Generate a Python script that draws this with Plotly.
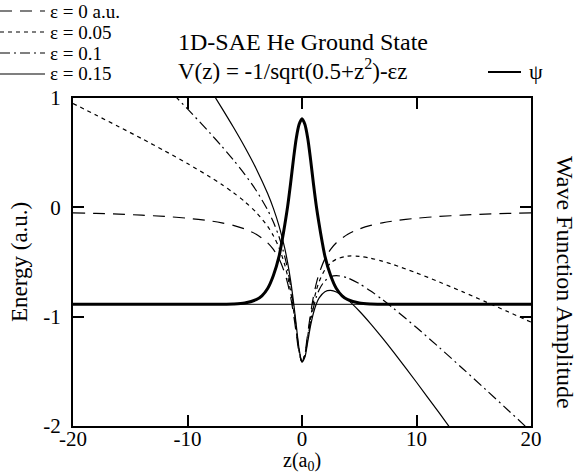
import plotly.graph_objects as go

# ---- data -------------------------------------------------------------
# position grid along the field axis, z in a0
z = [-20, -18, -16, -14, -12, -10, -8, -7, -6, -5, -4, -3, -2.5, -2, -1.5, -1.25,
     -1, -0.75, -0.5, -0.25, 0, 0.25, 0.5, 0.75, 1, 1.25, 1.5, 2, 2.5, 3, 4, 5,
     6, 7, 8, 10, 12, 14, 16, 18, 20]

# soft-core potential energy (a.u.) for each field strength
v_eps_000 = [-0.0500, -0.0555, -0.0624, -0.0713, -0.0832, -0.0998, -0.1245, -0.1421,
             -0.1655, -0.1980, -0.2462, -0.3244, -0.3849, -0.4714, -0.6030, -0.6963,
             -0.8165, -0.9701, -1.1547, -1.3333, -1.4142, -1.3333, -1.1547, -0.9701,
             -0.8165, -0.6963, -0.6030, -0.4714, -0.3849, -0.3244, -0.2462, -0.1980,
             -0.1655, -0.1421, -0.1245, -0.0998, -0.0832, -0.0713, -0.0624, -0.0555,
             -0.0500]
v_eps_005 = [0.9500, 0.8445, 0.7376, 0.6287, 0.5168, 0.4002, 0.2755, 0.2079,
             0.1345, 0.0520, -0.0462, -0.1744, -0.2599, -0.3714, -0.5280, -0.6338,
             -0.7665, -0.9326, -1.1297, -1.3208, -1.4142, -1.3458, -1.1797, -1.0076,
             -0.8665, -0.7588, -0.6780, -0.5714, -0.5099, -0.4744, -0.4462, -0.4480,
             -0.4655, -0.4921, -0.5245, -0.5998, -0.6832, -0.7713, -0.8624, -0.9555,
             -1.0500]
v_eps_010 = [1.9500, 1.7445, 1.5376, 1.3287, 1.1168, 0.9002, 0.6755, 0.5579,
             0.4345, 0.3020, 0.1538, -0.0244, -0.1349, -0.2714, -0.4530, -0.5713,
             -0.7165, -0.8951, -1.1047, -1.3083, -1.4142, -1.3583, -1.2047, -1.0451,
             -0.9165, -0.8213, -0.7530, -0.6714, -0.6349, -0.6244, -0.6462, -0.6980,
             -0.7655, -0.8421, -0.9245, -1.0998, -1.2832, -1.4713, -1.6624, -1.8555,
             -2.0500]
v_eps_015 = [2.9500, 2.6445, 2.3376, 2.0287, 1.7168, 1.4002, 1.0755, 0.9079,
             0.7345, 0.5520, 0.3538, 0.1256, -0.0099, -0.1714, -0.3780, -0.5088,
             -0.6665, -0.8576, -1.0797, -1.2958, -1.4142, -1.3708, -1.2297, -1.0826,
             -0.9665, -0.8838, -0.8280, -0.7714, -0.7599, -0.7744, -0.8462, -0.9480,
             -1.0655, -1.1921, -1.3245, -1.5998, -1.8832, -2.1713, -2.4624, -2.7555,
             -3.0500]

series_labels = ["ε = 0 a.u.", "ε = 0.05", "ε = 0.1", "ε = 0.15"]

# ground-state wave function (normalised to 1 at the peak)
z_psi = [-20, -10, -8, -6, -5, -4, -3.5, -3, -2.5, -2, -1.75, -1.5, -1.25, -1,
         -0.75, -0.5, -0.25, 0, 0.25, 0.5, 0.75, 1, 1.25, 1.5, 1.75, 2, 2.5, 3,
         3.5, 4, 5, 6, 8, 10, 20]
psi = [0.0, 0.0, 0.0003, 0.0018, 0.0068, 0.025, 0.046, 0.085, 0.155, 0.26, 0.34,
       0.43, 0.53, 0.65, 0.78, 0.895, 0.97, 1.0, 0.97, 0.895, 0.78, 0.65, 0.53,
       0.43, 0.34, 0.26, 0.155, 0.085, 0.046, 0.025, 0.0068, 0.0018, 0.0003,
       0.0, 0.0]

ground_energy = -0.887      # ground-state energy level (a.u.), psi baseline
psi_peak_energy = 0.81      # where the psi maximum sits on the energy scale

x_ticks = [-20, -10, 0, 10, 20]
x_tick_text = ["-20", "-10", "0", "10", "20"]
y_ticks = [-2, -1, 0, 1]
y_tick_text = ["-2", "-1", "0", "1"]

# ---- styling ----------------------------------------------------------
FONT = "Liberation Serif"
W, H = 579, 476
L, R, T, B = 73, 48, 98, 50
PW, PH = W - L - R, H - T - B


def px(xp):
    return (xp - L) / PW


def py(yp):
    return (H - B - yp) / PH


dashes = ["12px,8px", "4px,4px", "10px,4px,2px,4px", "solid"]
curves = [v_eps_000, v_eps_005, v_eps_010, v_eps_015]

fig = go.Figure()

for vals, dash in zip(curves, dashes):
    fig.add_trace(go.Scatter(x=z, y=vals, mode="lines",
                             line=dict(color="black", width=1.2, dash=dash,
                                       shape="spline", smoothing=0.8),
                             showlegend=False, hoverinfo="skip"))

# ground-state energy level
fig.add_trace(go.Scatter(x=[z[0], z[-1]], y=[ground_energy, ground_energy],
                         mode="lines", line=dict(color="black", width=1),
                         showlegend=False, hoverinfo="skip"))

# wave function on its own amplitude axis
fig.add_trace(go.Scatter(x=z_psi, y=psi, mode="lines", yaxis="y2",
                         line=dict(color="black", width=3, shape="spline",
                                   smoothing=0.8),
                         showlegend=False, hoverinfo="skip"))

scale = (psi_peak_energy - ground_energy)
y2_range = [(y_ticks[0] - ground_energy) / scale, (y_ticks[-1] - ground_energy) / scale]

axis_common = dict(showline=True, linewidth=2, linecolor="black", mirror="ticks",
                   ticks="inside", ticklen=11, tickwidth=2, tickcolor="black",
                   showgrid=False, zeroline=False,
                   tickfont=dict(family=FONT, size=21, color="black"))

fig.update_layout(
    width=W, height=H,
    margin=dict(l=L, r=R, t=T, b=B, autoexpand=False),
    paper_bgcolor="white", plot_bgcolor="white",
    xaxis=dict(range=[-20, 20], tickvals=x_ticks, ticktext=x_tick_text,
               ticklabelstandoff=-7, **axis_common),
    yaxis=dict(range=[-2, 1], tickvals=y_ticks, ticktext=y_tick_text,
               ticklabelstandoff=6, **axis_common),
    yaxis2=dict(range=y2_range, overlaying="y", visible=False),
    showlegend=False,
)

ann = []
shapes = []
txt = dict(family=FONT, color="black")

# legend for the field strengths
row_y = [11, 32, 53, 74]
for label, dash, ry in zip(series_labels, dashes, row_y):
    shapes.append(dict(type="line", xref="paper", yref="paper",
                       x0=px(0), x1=px(45), y0=py(ry), y1=py(ry),
                       line=dict(color="black", width=1.2, dash=dash)))
    ann.append(dict(text=label, xref="paper", yref="paper", x=px(48), y=py(ry),
                    xanchor="left", yanchor="middle", showarrow=False,
                    font=dict(size=19, **txt)))

# legend for psi
shapes.append(dict(type="line", xref="paper", yref="paper",
                   x0=px(488), x1=px(521), y0=py(72), y1=py(72),
                   line=dict(color="black", width=2)))
ann.append(dict(text="ψ", xref="paper", yref="paper", x=px(527), y=py(72),
                xanchor="left", yanchor="middle", showarrow=False,
                font=dict(size=22, **txt)))

# title block
ann.append(dict(text="1D-SAE He Ground State", xref="paper", yref="paper",
                x=px(176), y=py(42), xanchor="left", yanchor="middle",
                showarrow=False, font=dict(size=24, **txt)))
ann.append(dict(text="V(z) = -1/sqrt(0.5+z<sup>2</sup>)-εz", xref="paper",
                yref="paper", x=px(176), y=py(70), xanchor="left",
                yanchor="middle", showarrow=False, font=dict(size=23, **txt)))

# axis titles
ann.append(dict(text="Energy (a.u.)", xref="paper", yref="paper", x=px(19),
                y=py(262), textangle=-90, xanchor="center", yanchor="middle",
                showarrow=False, font=dict(size=23, **txt)))
ann.append(dict(text="Wave Function Amplitude", xref="paper", yref="paper",
                x=px(565), y=py(282), textangle=90, xanchor="center",
                yanchor="middle", showarrow=False, font=dict(size=24, **txt)))
ann.append(dict(text="z(a<sub>0</sub>)", xref="paper", yref="paper", x=px(302),
                y=py(476), xanchor="center", yanchor="bottom", showarrow=False,
                font=dict(size=20, **txt)))

fig.update_layout(annotations=ann, shapes=shapes)

fig.write_html("out.html")
